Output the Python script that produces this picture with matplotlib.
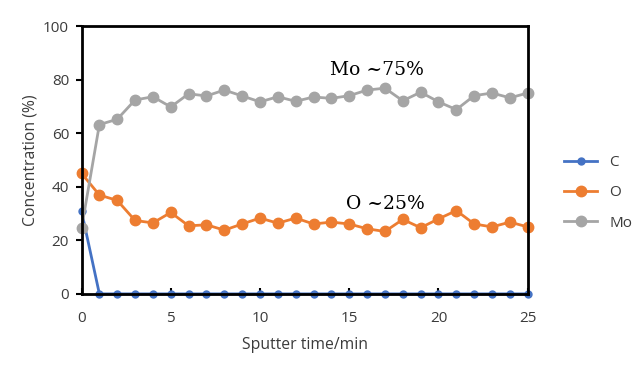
import matplotlib.pyplot as plt
import numpy as np

# sputter time (min)
t = np.arange(0, 26)

c_conc = [30.9] + [0] * 25
o_conc = [45.0, 36.9, 34.9, 27.4, 26.5, 30.4, 25.4, 25.8, 23.8, 26.1,
          28.3, 26.4, 28.3, 26.1, 26.8, 26.1, 24.3, 23.3, 27.8, 24.7,
          28.0, 31.1, 26.1, 25.0, 26.8, 25.0]
mo_conc = [24.5, 63.2, 65.2, 72.4, 73.6, 69.8, 74.7, 73.9, 76.1, 73.9,
           71.7, 73.6, 71.9, 73.5, 73.0, 74.0, 76.1, 76.8, 72.1, 75.3,
           71.7, 68.8, 74.0, 75.0, 73.2, 75.0]

plt.rcParams['font.family'] = ['Open Sans', 'DejaVu Sans']
txt_col = '#3b3b3b'

fig = plt.figure(figsize=(6.42, 3.72), dpi=100)
ax = fig.add_axes([0.127, 0.21, 0.695, 0.72])

ax.plot(t, c_conc, color='#4472C4', lw=2, marker='o', ms=5, label='C')
ax.plot(t, o_conc, color='#ED7D31', lw=2, marker='o', ms=7.5, label='O')
ax.plot(t, mo_conc, color='#A5A5A5', lw=2, marker='o', ms=7.5, label='Mo')

ax.set_xlim(0, 25)
ax.set_ylim(0, 100)
ax.set_xticks([0, 5, 10, 15, 20, 25])
ax.set_yticks([0, 20, 40, 60, 80, 100])
ax.tick_params(axis='x', direction='in', length=4, width=1.5, labelsize=11,
               pad=12, labelcolor=txt_col)
ax.tick_params(axis='y', direction='out', length=4, width=1.5, labelsize=11,
               pad=5, labelcolor=txt_col)
for s in ax.spines.values():
    s.set_linewidth(2)
    s.set_color('black')
for line in ax.lines:
    line.set_clip_on(False)

ax.set_xlabel('Sputter time/min', fontsize=11.3, color=txt_col, labelpad=8)
ax.set_ylabel('Concentration (%)', fontsize=11.3, color=txt_col, labelpad=3)

ax.text(16.57, 83.6, 'Mo ~75%', family='DejaVu Serif', fontsize=13.5,
        ha='center', va='center')
ax.text(17.0, 33.5, 'O ~25%', family='DejaVu Serif', fontsize=13.5,
        ha='center', va='center')

leg = ax.legend(loc='center left', bbox_to_anchor=(1.05, 0.377), frameon=False,
                fontsize=11, handlelength=2.2, labelspacing=1.0)
for tx in leg.get_texts():
    tx.set_color(txt_col)

fig.savefig('out.png', dpi=100)
